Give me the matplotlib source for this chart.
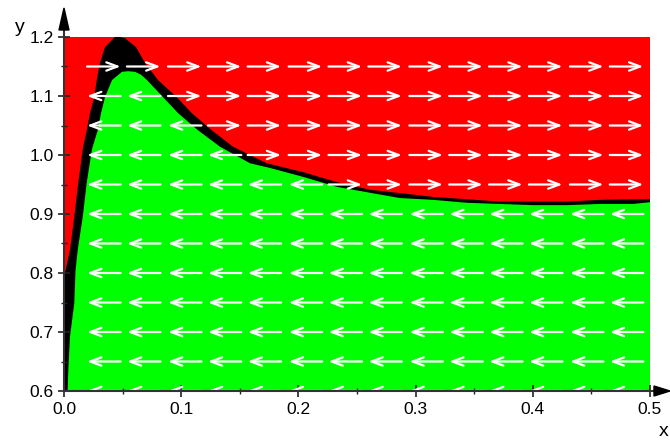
import numpy as np
import matplotlib.pyplot as plt
from matplotlib.patches import FancyArrowPatch, Polygon
from matplotlib.lines import Line2D
from matplotlib.ticker import MultipleLocator

plt.rcParams['font.family'] = ['Liberation Sans', 'DejaVu Sans']

# boundary red / black (upper edge of the black band)
top_x = [0.0, 0.0009, 0.0051, 0.0088, 0.0122, 0.0162, 0.0194, 0.0222, 0.0259, 0.0279,
         0.0307, 0.0350, 0.0435, 0.0478, 0.0520, 0.0614, 0.0691, 0.0802, 0.0962, 0.1090,
         0.1260, 0.1442, 0.1730, 0.2039, 0.2329, 0.2611, 0.2892, 0.3148, 0.3439, 0.3720,
         0.4002, 0.4292, 0.4573, 0.4855, 0.5]
top_y = [0.800, 0.800, 0.839, 0.895, 0.953, 1.012, 1.042, 1.071, 1.098, 1.127,
         1.156, 1.183, 1.200, 1.200, 1.198, 1.183, 1.156, 1.127, 1.098, 1.071,
         1.042, 1.014, 0.986, 0.971, 0.954, 0.941, 0.935, 0.929, 0.925, 0.921,
         0.921, 0.921, 0.924, 0.925, 0.925]

# boundary black / green (lower edge of the black band)
bot_x = [0.0, 0.0030, 0.0032, 0.0037, 0.0051, 0.0088, 0.0098, 0.0117, 0.0160, 0.0194,
         0.0239, 0.0288, 0.0316, 0.0350, 0.0410, 0.0495, 0.0546, 0.0606, 0.0657, 0.0708,
         0.0845, 0.0973, 0.1143, 0.1331, 0.1587, 0.1758, 0.2039, 0.2329, 0.2611, 0.2867,
         0.3148, 0.3439, 0.3720, 0.4002, 0.4292, 0.4573, 0.4855, 0.5]
bot_y = [0.600, 0.600, 0.605, 0.636, 0.692, 0.749, 0.803, 0.839, 0.895, 0.953,
         1.010, 1.042, 1.071, 1.098, 1.127, 1.141, 1.142, 1.141, 1.136, 1.127,
         1.098, 1.071, 1.042, 1.014, 0.986, 0.978, 0.963, 0.946, 0.936, 0.927,
         0.924, 0.919, 0.917, 0.915, 0.915, 0.917, 0.917, 0.920]

# field arrow grid
arrow_x = [0.034, 0.068, 0.103, 0.137, 0.171, 0.206, 0.240, 0.274, 0.309, 0.343,
           0.377, 0.411, 0.446, 0.480]
arrow_y = [0.60, 0.65, 0.70, 0.75, 0.80, 0.85, 0.90, 0.95, 1.00, 1.05, 1.10, 1.15]

x_ticks = [0.0, 0.1, 0.2, 0.3, 0.4, 0.5]
y_ticks = [0.6, 0.7, 0.8, 0.9, 1.0, 1.1, 1.2]

xmin, xmax, ymin, ymax = 0.0, 0.5, 0.6, 1.2

fig = plt.figure(figsize=(6.7, 4.43), dpi=100)
ax = fig.add_axes([64 / 670, 52 / 443, 586 / 670, 354 / 443])
ax.set_xlim(xmin, xmax)
ax.set_ylim(ymin, ymax)
ax.set_facecolor('black')  # the band between the two edges

red_poly = [(xmin, ymax)] + list(zip(top_x, top_y)) + [(xmax, ymax)]
green_poly = [(xmin, ymin)] + list(zip(bot_x, bot_y)) + [(xmax, ymin)]
ax.add_patch(Polygon(red_poly, closed=True, facecolor='#ff0000', edgecolor='none', zorder=1))
ax.add_patch(Polygon(green_poly, closed=True, facecolor='#00ff00', edgecolor='none', zorder=1))

# arrows point right above the curve, left below it
mid = (np.interp(arrow_x, top_x, top_y) + np.interp(arrow_x, bot_x, bot_y)) / 2
half = 0.0143
for i, cx in enumerate(arrow_x):
    for cy in arrow_y:
        d = 1 if cy > mid[i] else -1
        arr = FancyArrowPatch((cx - d * half, cy), (cx + d * half, cy),
                              arrowstyle='->,head_length=0.8,head_width=0.3',
                              mutation_scale=10, color='white', lw=1.6,
                              shrinkA=0, shrinkB=0, zorder=3)
        ax.add_patch(arr)

# axes look
for s in ['top', 'right']:
    ax.spines[s].set_visible(False)
for s in ['left', 'bottom']:
    ax.spines[s].set_color('#333333')
    ax.spines[s].set_linewidth(1.5)
    ax.spines[s].set_zorder(5)

ax.set_xticks(x_ticks)
ax.set_yticks(y_ticks)
ax.set_xticklabels(['{:.1f}'.format(v) for v in x_ticks])
ax.set_yticklabels(['{:.1f}'.format(v) for v in y_ticks])
ax.xaxis.set_minor_locator(MultipleLocator(0.05))
ax.yaxis.set_minor_locator(MultipleLocator(0.05))
ax.tick_params(which='major', direction='inout', length=9, width=1.2, color='#222222',
               labelsize=12.5)
ax.tick_params(which='minor', direction='inout', length=5, width=1.0, color='#222222')
ax.tick_params(axis='x', which='major', pad=3.5)
ax.tick_params(axis='y', which='major', pad=3)

# arrow heads on the axes
ax.add_line(Line2D([0, 0], [1, 1.02], transform=ax.transAxes, color='#333333',
                   lw=1.5, clip_on=False, zorder=5))
ax.add_patch(Polygon([(-5 / 586, 1.0198), (5 / 586, 1.0198), (0, 1.082)], closed=True,
                     transform=ax.transAxes, color='black', clip_on=False, zorder=5))
ax.add_line(Line2D([1, 1.007], [0, 0], transform=ax.transAxes, color='#333333',
                   lw=1.5, clip_on=False, zorder=5))
ax.add_patch(Polygon([(1.0068, -5 / 354), (1.0068, 5 / 354), (1.0341, 0)], closed=True,
                     transform=ax.transAxes, color='black', clip_on=False, zorder=5))

fig.text(19.5 / 670, 1 - 27 / 443, 'y', ha='center', va='center', fontsize=14)
fig.text(664 / 670, 1 - 431 / 443, 'x', ha='center', va='center', fontsize=14)

fig.savefig('out.png', dpi=100)
